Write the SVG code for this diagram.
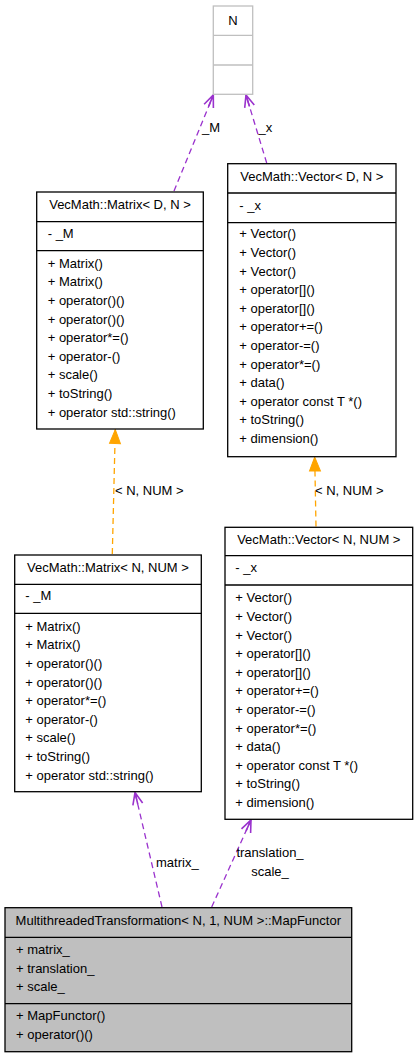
<svg xmlns="http://www.w3.org/2000/svg" width="417" height="1059" viewBox="0 0 417 1059">
<style>
text{font-family:"Liberation Sans",Arial,sans-serif;font-size:13px;fill:#000}
.t{text-anchor:middle}
.box{fill:#fff;stroke:#000;stroke-width:1.3}
.sep{stroke:#000;stroke-width:1.3}
.gbox{fill:#fff;stroke:#bfbfbf;stroke-width:1.3}
.gsep{stroke:#bfbfbf;stroke-width:1.3}
.hl{fill:#bfbfbf;stroke:#000;stroke-width:1.3}
.use{fill:none;stroke:#9a32cd;stroke-width:1.3;stroke-dasharray:6,4}
.inh{fill:none;stroke:#ffa500;stroke-width:1.3;stroke-dasharray:6,4}
</style>
<defs>
<marker id="vee" markerUnits="userSpaceOnUse" orient="auto" refX="0" refY="0" markerWidth="20" markerHeight="20" overflow="visible">
<path d="M-12,-5 L0,0 L-12,5 M-12,0 L0,0" fill="none" stroke="#9a32cd" stroke-width="1.6"/>
</marker>
<marker id="tri" markerUnits="userSpaceOnUse" orient="auto" refX="0" refY="0" markerWidth="20" markerHeight="20" overflow="visible">
<path d="M-14,-5.5 L0,0 L-14,5.5 Z" fill="#ffa500" stroke="#ffa500" stroke-width="1"/>
</marker>
</defs>

<g id="edges">
<line class="use" x1="174" y1="191" x2="213.3" y2="95" marker-end="url(#vee)"/>
<text x="202" y="132">_M</text>
<line class="use" x1="266.7" y1="163" x2="246" y2="95" marker-end="url(#vee)"/>
<text x="258.5" y="132">_x</text>
<line class="inh" x1="112.3" y1="554" x2="115.3" y2="429.5" marker-end="url(#tri)"/>
<text x="115" y="495">&lt; N, NUM &gt;</text>
<line class="inh" x1="316" y1="526.5" x2="314.7" y2="457" marker-end="url(#tri)"/>
<text x="315" y="495">&lt; N, NUM &gt;</text>
<line class="use" x1="162" y1="907" x2="135" y2="792.5" marker-end="url(#vee)"/>
<text x="156" y="866.5">matrix_</text>
<line class="use" x1="211.7" y1="907" x2="251" y2="820" marker-end="url(#vee)"/>
<text class="t" x="270" y="857">translation_</text>
<text class="t" x="270" y="876">scale_</text>
</g>

<g id="N">
<rect class="gbox" x="213.3" y="6" width="39.4" height="88.3"/>
<line class="gsep" x1="213.3" y1="35.3" x2="252.7" y2="35.3"/>
<line class="gsep" x1="213.3" y1="65" x2="252.7" y2="65"/>
<text class="t" x="233" y="24.5">N</text>
</g>

<g id="MatrixDN">
<rect class="box" x="36.7" y="192" width="166.6" height="237"/>
<line class="sep" x1="36.7" y1="221.7" x2="203.3" y2="221.7"/>
<line class="sep" x1="36.7" y1="250.7" x2="203.3" y2="250.7"/>
<text class="t" x="120" y="208.5">VecMath::Matrix&lt; D, N &gt;</text>
<text x="47.7" y="238">- _M</text>
<text x="47.7" y="267.7">+ Matrix()</text>
<text x="47.7" y="286.3">+ Matrix()</text>
<text x="47.7" y="304.9">+ operator()()</text>
<text x="47.7" y="323.5">+ operator()()</text>
<text x="47.7" y="342.1">+ operator*=()</text>
<text x="47.7" y="360.7">+ operator-()</text>
<text x="47.7" y="379.3">+ scale()</text>
<text x="47.7" y="397.9">+ toString()</text>
<text x="47.7" y="416.5">+ operator std::string()</text>
</g>

<g id="VectorDN">
<rect class="box" x="227.7" y="163.7" width="168.3" height="293"/>
<line class="sep" x1="227.7" y1="193" x2="396" y2="193"/>
<line class="sep" x1="227.7" y1="222.7" x2="396" y2="222.7"/>
<text class="t" x="311.8" y="181">VecMath::Vector&lt; D, N &gt;</text>
<text x="239.3" y="210">- _x</text>
<text x="239.3" y="238.3">+ Vector()</text>
<text x="239.3" y="256.9">+ Vector()</text>
<text x="239.3" y="275.5">+ Vector()</text>
<text x="239.3" y="294.1">+ operator[]()</text>
<text x="239.3" y="312.7">+ operator[]()</text>
<text x="239.3" y="331.3">+ operator+=()</text>
<text x="239.3" y="349.9">+ operator-=()</text>
<text x="239.3" y="368.5">+ operator*=()</text>
<text x="239.3" y="387.1">+ data()</text>
<text x="239.3" y="405.7">+ operator const T *()</text>
<text x="239.3" y="424.3">+ toString()</text>
<text x="239.3" y="442.9">+ dimension()</text>
</g>

<g id="MatrixNNUM">
<rect class="box" x="14.7" y="555" width="186.6" height="236.7"/>
<line class="sep" x1="14.7" y1="584.3" x2="201.3" y2="584.3"/>
<line class="sep" x1="14.7" y1="613.3" x2="201.3" y2="613.3"/>
<text class="t" x="108" y="571.7">VecMath::Matrix&lt; N, NUM &gt;</text>
<text x="25.3" y="600">- _M</text>
<text x="25.3" y="630.7">+ Matrix()</text>
<text x="25.3" y="649.3">+ Matrix()</text>
<text x="25.3" y="667.9">+ operator()()</text>
<text x="25.3" y="686.5">+ operator()()</text>
<text x="25.3" y="705.1">+ operator*=()</text>
<text x="25.3" y="723.7">+ operator-()</text>
<text x="25.3" y="742.3">+ scale()</text>
<text x="25.3" y="760.9">+ toString()</text>
<text x="25.3" y="779.5">+ operator std::string()</text>
</g>

<g id="VectorNNUM">
<rect class="box" x="225" y="527.3" width="187.7" height="292"/>
<line class="sep" x1="225" y1="555.7" x2="412.7" y2="555.7"/>
<line class="sep" x1="225" y1="585" x2="412.7" y2="585"/>
<text class="t" x="318.8" y="544">VecMath::Vector&lt; N, NUM &gt;</text>
<text x="235.3" y="571.7">- _x</text>
<text x="235.3" y="602.3">+ Vector()</text>
<text x="235.3" y="620.9">+ Vector()</text>
<text x="235.3" y="639.5">+ Vector()</text>
<text x="235.3" y="658.1">+ operator[]()</text>
<text x="235.3" y="676.7">+ operator[]()</text>
<text x="235.3" y="695.3">+ operator+=()</text>
<text x="235.3" y="713.9">+ operator-=()</text>
<text x="235.3" y="732.5">+ operator*=()</text>
<text x="235.3" y="751.1">+ data()</text>
<text x="235.3" y="769.7">+ operator const T *()</text>
<text x="235.3" y="788.3">+ toString()</text>
<text x="235.3" y="806.9">+ dimension()</text>
</g>

<g id="MapFunctor">
<rect class="hl" x="5" y="907.7" width="346.7" height="144"/>
<line class="sep" x1="5" y1="937.3" x2="351.7" y2="937.3"/>
<line class="sep" x1="5" y1="1003.7" x2="351.7" y2="1003.7"/>
<text class="t" x="178.3" y="924.5">MultithreadedTransformation&lt; N, 1, NUM &gt;::MapFunctor</text>
<text x="16" y="954.3">+ matrix_</text>
<text x="16" y="972.5">+ translation_</text>
<text x="16" y="991">+ scale_</text>
<text x="16" y="1020">+ MapFunctor()</text>
<text x="16" y="1039">+ operator()()</text>
</g>
</svg>
